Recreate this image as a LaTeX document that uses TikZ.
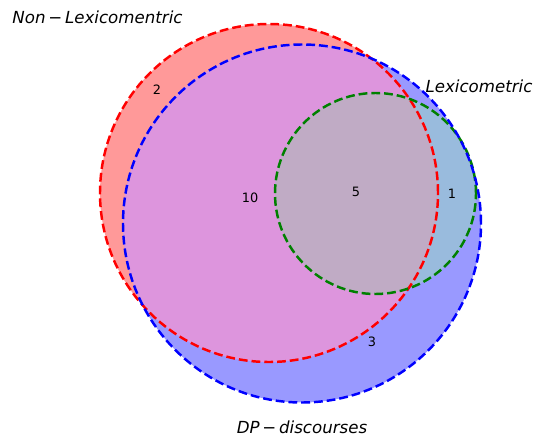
\documentclass[tikz,border=0pt]{standalone}
\usepackage{fontspec}
\setmainfont{DejaVu Sans}
\usepackage{xcolor}
\usetikzlibrary{positioning}

\definecolor{redonly}{HTML}{FF9999}
\definecolor{blueonly}{HTML}{9999FF}
\definecolor{redblue}{HTML}{DD95DD}
\definecolor{bluegreen}{HTML}{99BBDD}
\definecolor{allthree}{HTML}{C0ABC5}
\definecolor{linegreen}{HTML}{008000}

\tikzset{
  setline/.style={line width=2.1pt, dash pattern=on 7.5pt off 3.4pt},
  setlabel/.style={font=\fontsize{14.2}{16}\selectfont\itshape, inner sep=0pt},
  countlabel/.style={font=\fontsize{11}{13}\selectfont, inner sep=0pt}
}

\begin{document}
\begin{tikzpicture}[x=0.03cm,y=0.03cm]
    \useasboundingbox (0,0) rectangle (533,439);

    % set centres
    \coordinate (nonlex) at (269,246);
    \coordinate (dp) at (302,215.5);
    \coordinate (lex) at (375.5,245.5);

    % single regions
    \fill[redonly] (nonlex) circle (169);
    \fill[blueonly] (dp) circle (179);

    % Non-Lexicomentric and DP-discourses
    \begin{scope}
        \clip (nonlex) circle (169);
        \fill[redblue] (dp) circle (179);
    \end{scope}

    % Lexicometric (inside DP-discourses)
    \fill[bluegreen] (lex) circle (100.5);
    \begin{scope}
        \clip (nonlex) circle (169);
        \fill[allthree] (lex) circle (100.5);
    \end{scope}

    % Outlines
    \draw[setline, red] (nonlex) circle (169);
    \draw[setline, linegreen] (lex) circle (100.5);
    \draw[setline, blue] (dp) circle (179);

    % Set labels
    \node[setlabel] (nonlexlabel) at (97.5,422) {Non\,−\,Lexicomentric};
    \node[setlabel] (lexlabel) at (479,353) {Lexicometric};
    \node[setlabel] (dplabel) at (302,12) {DP\,−\,discourses};

    % Counts
    \node[countlabel] (ctwo) at (157,349) {2};
    \node[countlabel] (cten) at (250,241) {10};
    \node[countlabel] (cfive) at (356,247) {5};
    \node[countlabel] (cone) at (452,245) {1};
    \node[countlabel] (cthree) at (372,97) {3};
\end{tikzpicture}
\end{document}
